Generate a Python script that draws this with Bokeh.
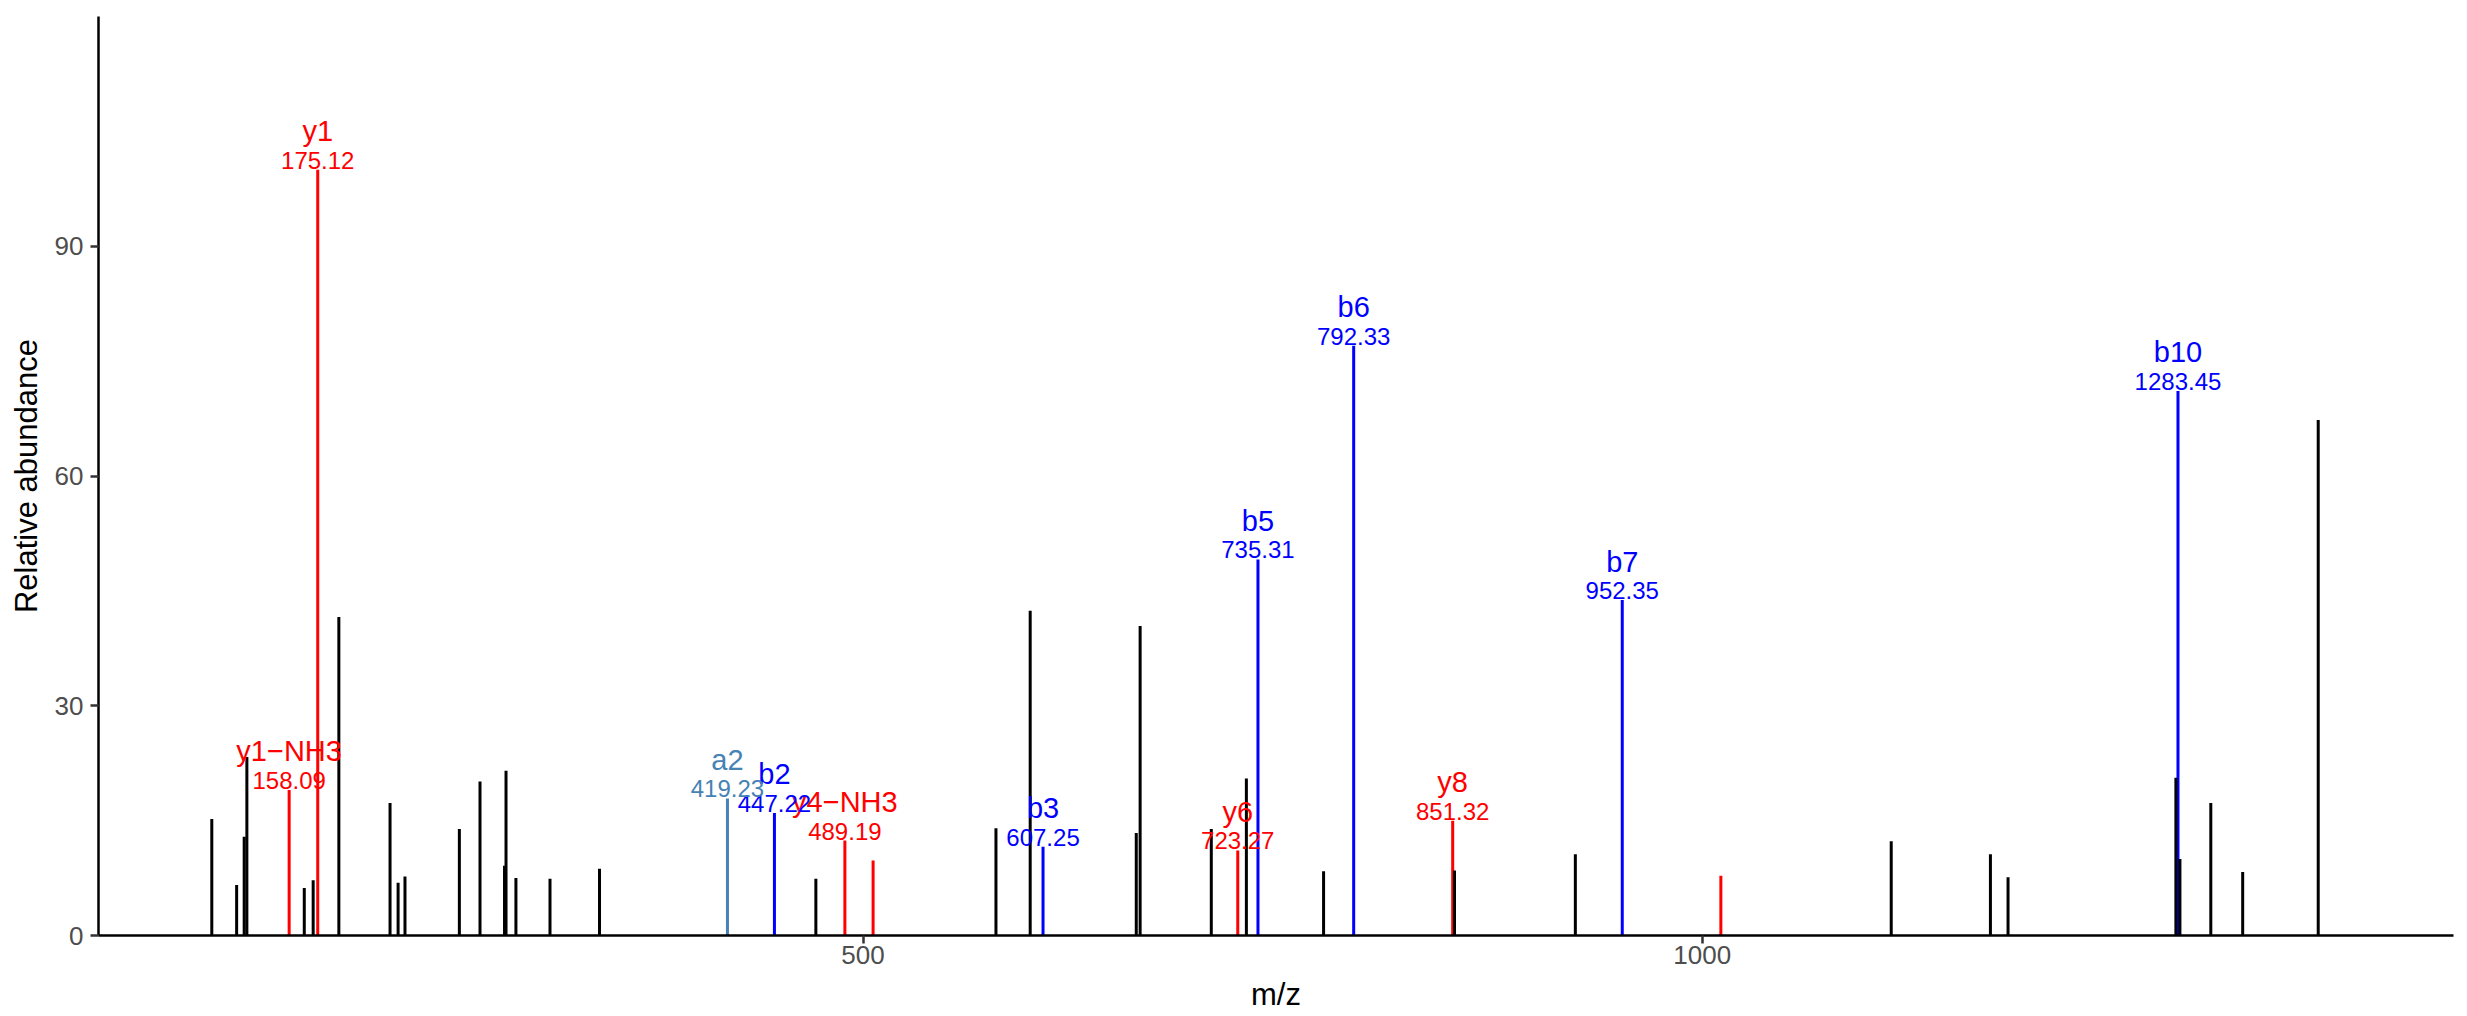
from bokeh.plotting import figure
from bokeh.models import Range1d, FixedTicker, ColumnDataSource
from bokeh.embed import file_html
from bokeh.resources import INLINE
from bokeh.core.properties import value

# ---------------- data ----------------
# unannotated peaks (black)
other_mz = [112.0, 126.8, 131.3, 132.9, 167.1, 172.4, 187.7, 218.2, 223.0, 227.1,
            259.5, 271.8, 286.4, 287.3, 293.2, 313.5, 343.0, 471.9, 579.2, 599.6,
            662.8, 665.1, 707.5, 728.4, 774.4, 852.4, 924.4, 1112.6, 1171.7, 1182.2,
            1282.2, 1284.6, 1303.0, 1322.0, 1367.0]
other_int = [15.2, 6.6, 12.9, 23.3, 6.2, 7.2, 41.6, 17.3, 6.9, 7.7,
             13.9, 20.1, 9.1, 21.5, 7.5, 7.4, 8.7, 7.4, 14.0, 42.4,
             13.4, 40.4, 13.9, 20.5, 8.4, 8.5, 10.6, 12.3, 10.6, 7.6,
             20.6, 10.0, 17.3, 8.3, 67.3]

# y-type ions (red), labelled
y_mz = [158.09, 175.12, 489.19, 723.27, 851.32]
y_int = [19.0, 100.0, 12.4, 11.1, 15.0]
y_lab = ["y1\u2212NH3", "y1", "y4\u2212NH3", "y6", "y8"]
y_mzlab = ["158.09", "175.12", "489.19", "723.27", "851.32"]

# y-type peaks (red), unlabelled
y2_mz = [506.0, 1011.1]
y2_int = [9.8, 7.8]

# b-type ions (blue)
b_mz = [447.22, 607.25, 735.31, 792.33, 952.35, 1283.45]
b_int = [16.0, 11.6, 49.1, 77.0, 43.8, 71.1]
b_lab = ["b2", "b3", "b5", "b6", "b7", "b10"]
b_mzlab = ["447.22", "607.25", "735.31", "792.33", "952.35", "1283.45"]

# a-type ions (steelblue)
a_mz = [419.23]
a_int = [17.9]
a_lab = ["a2"]
a_mzlab = ["419.23"]

x_ticks = [500, 1000]
y_ticks = [0, 30, 60, 90]
x_min, x_max = 44.5, 1447.6
y_min, y_max = 0, 120

FONT = "Liberation Sans"

p = figure(width=2459, height=1014, output_backend="svg", toolbar_location=None,
           x_range=Range1d(x_min, x_max), y_range=Range1d(y_min, y_max),
           min_border_left=98, min_border_right=6, min_border_top=16,
           min_border_bottom=78)
p.grid.visible = False
p.outline_line_color = None
p.background_fill_color = "white"
p.border_fill_color = "white"

def sticks(mz, inten, color):
    src = ColumnDataSource(dict(x=mz, y=inten, z=[0] * len(mz)))
    p.segment(x0="x", y0="z", x1="x", y1="y", source=src,
              line_color=color, line_width=3)

def labels(mz, inten, lab, mzlab, color):
    src = ColumnDataSource(dict(x=mz, y=inten, lab=lab, mzlab=mzlab))
    p.text(x="x", y="y", text="mzlab", source=src, text_align="center",
           text_baseline="alphabetic", text_font=value(FONT),
           text_font_size="24px", text_color=color, y_offset=-9.5)
    p.text(x="x", y="y", text="lab", source=src, text_align="center",
           text_baseline="alphabetic", text_font=value(FONT),
           text_font_size="29px", text_color=color, y_offset=-38.5)

sticks(y_mz, y_int, "#FF0000")
sticks(y2_mz, y2_int, "#FF0000")
sticks(b_mz, b_int, "#0000FF")
sticks(a_mz, a_int, "#4682B4")
sticks(other_mz, other_int, "#000000")

labels(y_mz, y_int, y_lab, y_mzlab, "#FF0000")
labels(b_mz, b_int, b_lab, b_mzlab, "#0000FF")
labels(a_mz, a_int, a_lab, a_mzlab, "#4682B4")

p.xaxis.ticker = FixedTicker(ticks=x_ticks)
p.yaxis.ticker = FixedTicker(ticks=y_ticks)
p.xaxis.axis_label = "m/z"
p.yaxis.axis_label = "Relative abundance"

for ax in (p.xaxis, p.yaxis):
    ax.axis_label_text_font = FONT
    ax.axis_label_text_font_style = "normal"
    ax.axis_label_text_font_size = "31px"
    ax.axis_label_text_color = "#000000"
    ax.major_label_text_font = FONT
    ax.major_label_text_font_size = "26px"
    ax.major_label_text_color = "#4D4D4D"
    ax.axis_line_color = "#000000"
    ax.axis_line_width = 2.5
    ax.major_tick_line_color = "#333333"
    ax.major_tick_line_width = 2.5
    ax.major_tick_out = 8
    ax.major_tick_in = 0
    ax.minor_tick_out = 0
    ax.minor_tick_in = 0

p.xaxis.major_label_standoff = 2
p.xaxis.axis_label_standoff = 10
p.yaxis.major_label_standoff = 7
p.yaxis.axis_label_standoff = 8

open("out.html", "w").write(file_html(p, INLINE))
